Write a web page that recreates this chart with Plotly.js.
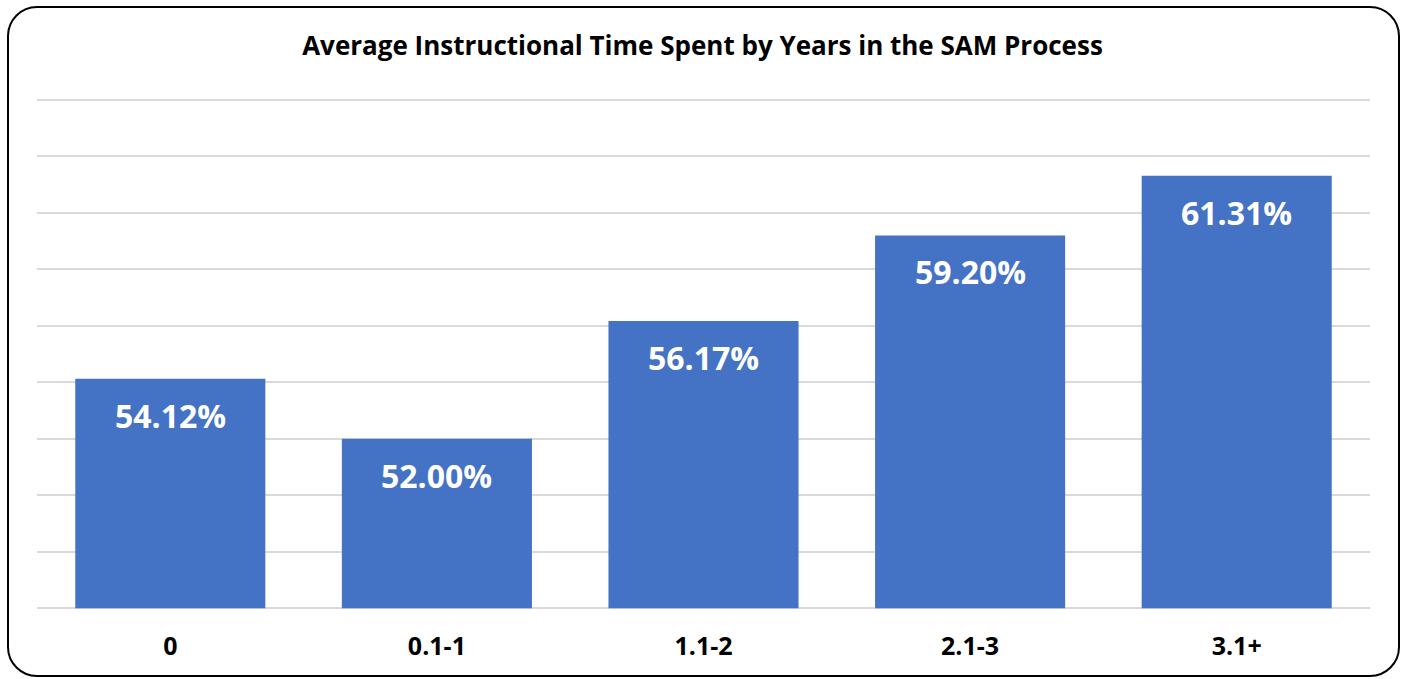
<!DOCTYPE html>
<html>
<head>
<meta charset="utf-8">
<script src="https://cdn.plot.ly/plotly-3.0.1.min.js"></script>
<style>
  html, body { margin: 0; padding: 0; background: #fff; }
  #wrap { position: relative; width: 1405px; height: 679px; }
  #chart { width: 1405px; height: 679px; }
  #frame { position: absolute; left: 7px; top: 6px; width: 1389px; height: 667px;
           border: 2px solid #000; border-radius: 30px; pointer-events: none; }
</style>
</head>
<body>
<div id="wrap">
  <div id="chart"></div>
  <div id="frame"></div>
</div>
<script>
const categories = ["0", "0.1-1", "1.1-2", "2.1-3", "3.1+"];
const values = [54.12, 52.00, 56.17, 59.20, 61.31];
const labels = values.map(v => v.toFixed(2) + "%");
const axisMin = 46;
const axisMax = 64;

const FONT = "'Open Sans', Lato, sans-serif";

const trace = {
  type: "bar",
  x: categories,
  y: values.map(v => v - axisMin),
  base: axisMin,
  marker: { color: "#4472C4" },
  hoverinfo: "x+y"
};

const annotations = categories.map((c, i) => ({
  x: c, y: values[i], xref: "x", yref: "y",
  text: labels[i], showarrow: false,
  yanchor: "top", yshift: -13,
  font: { family: FONT, size: 32, color: "#fff", weight: "bold" }
}));

const layout = {
  width: 1405, height: 679,
  margin: { l: 37, r: 35, t: 97.2, b: 68.2 },
  paper_bgcolor: "#fff", plot_bgcolor: "#fff",
  title: {
    text: "<b>Average Instructional Time Spent by Years in the SAM Process</b>",
    font: { family: FONT, size: 26, color: "#000" },
    x: 0.5, xanchor: "center", y: 1 - 46/679, yanchor: "middle"
  },
  bargap: 0.287,
  xaxis: {
    type: "category",
    tickfont: { family: FONT, size: 25, color: "#000", weight: "bold" },
    showline: false, ticks: "", showgrid: false, zeroline: false,
    ticklabelstandoff: 18
  },
  yaxis: {
    range: [axisMin - 0.1, axisMax + 0.1], dtick: 2, tick0: axisMin,
    showticklabels: false, showgrid: true, gridcolor: "#d9d9d9", gridwidth: 2,
    zeroline: false, showline: false, ticks: ""
  },
  annotations: annotations,
  showlegend: false
};

Plotly.newPlot("chart", [trace], layout, { displayModeBar: false, staticPlot: true });
</script>
</body>
</html>
